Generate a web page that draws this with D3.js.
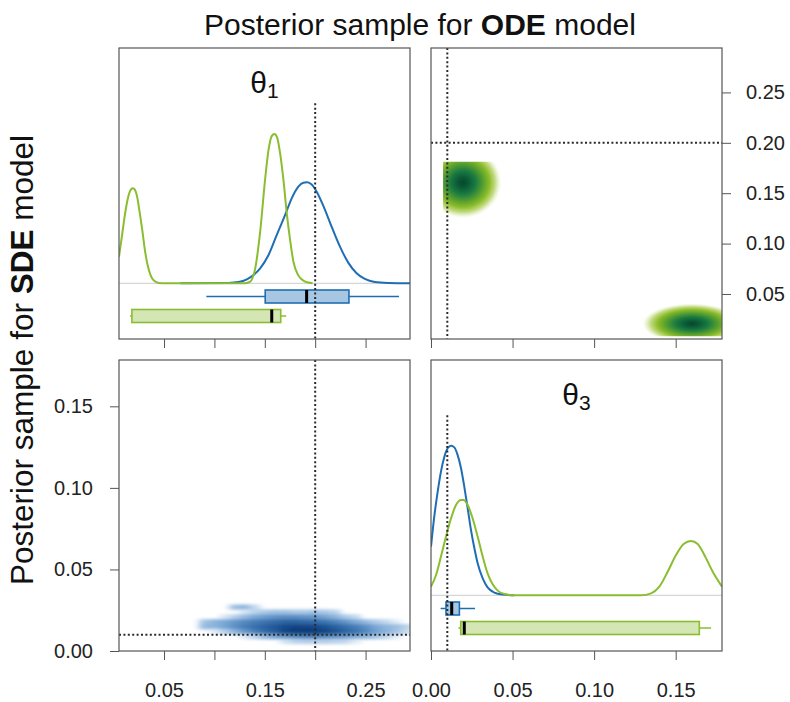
<!DOCTYPE html>
<html>
<head>
<meta charset="utf-8">
<script src="https://cdn.jsdelivr.net/npm/d3@7"></script>
<style>
  body { margin: 0; background: #fff; }
  svg { display: block; font-family: "Liberation Sans", Arial, Helvetica, sans-serif; }
</style>
</head>
<body>
<svg id="chart" width="790" height="702"></svg>
<script>
// ---------------------------------------------------------------
// Data
// ---------------------------------------------------------------
const trueTheta1 = 0.20;
const trueTheta3 = 0.01;

const theta1Ticks = [0.05, 0.10, 0.15, 0.20, 0.25];
const theta3Ticks = [0.00, 0.05, 0.10, 0.15];
const theta1Domain = [0.0053, 0.2941];
const theta3Domain = [0.0, 0.1784];

// marginal densities (relative scale): [theta, density]
const odeTheta1Density = [
  [0.0053, 0.148], [0.0086, 0.278], [0.0119, 0.407], [0.0152, 0.496], [0.0172, 0.522],
  [0.0191, 0.528], [0.0211, 0.519], [0.0234, 0.478], [0.0257, 0.398], [0.0284, 0.296],
  [0.0310, 0.185], [0.0333, 0.111], [0.0366, 0.046], [0.0399, 0.015], [0.0449, 0.002],
  [0.0515, 0.0], [0.1306, 0.0], [0.1355, 0.009], [0.1405, 0.083], [0.1454, 0.287],
  [0.1504, 0.583], [0.1537, 0.741], [0.1570, 0.819], [0.1596, 0.830], [0.1622, 0.811],
  [0.1652, 0.722], [0.1685, 0.574], [0.1718, 0.389], [0.1751, 0.241], [0.1784, 0.120],
  [0.1833, 0.044], [0.1883, 0.015], [0.1932, 0.004], [0.1975, 0.0]
];
const sdeTheta1Density = [
  [0.0663, 0.0], [0.1141, 0.002], [0.1240, 0.007], [0.1322, 0.022], [0.1388, 0.046],
  [0.1454, 0.083], [0.1537, 0.157], [0.1619, 0.269], [0.1702, 0.380], [0.1767, 0.472],
  [0.1833, 0.537], [0.1883, 0.559], [0.1916, 0.561], [0.1959, 0.552], [0.2015, 0.509],
  [0.2081, 0.430], [0.2163, 0.315], [0.2246, 0.204], [0.2328, 0.115], [0.2411, 0.056],
  [0.2493, 0.024], [0.2592, 0.007], [0.2724, 0.002], [0.2941, 0.0]
];
const sdeTheta3Density = [
  [0.0, 0.270], [0.0020, 0.437], [0.0041, 0.576], [0.0061, 0.687], [0.0082, 0.770],
  [0.0102, 0.817], [0.0123, 0.831], [0.0143, 0.822], [0.0163, 0.780], [0.0184, 0.706],
  [0.0204, 0.604], [0.0225, 0.483], [0.0245, 0.363], [0.0266, 0.261], [0.0286, 0.178],
  [0.0317, 0.094], [0.0347, 0.044], [0.0388, 0.015], [0.0439, 0.004], [0.0511, 0.0]
];
const odeTheta3Density = [
  [0.0, 0.048], [0.0031, 0.113], [0.0061, 0.215], [0.0092, 0.326], [0.0123, 0.428],
  [0.0153, 0.502], [0.0184, 0.530], [0.0200, 0.530], [0.0225, 0.502], [0.0255, 0.428],
  [0.0286, 0.326], [0.0317, 0.215], [0.0347, 0.122], [0.0378, 0.061], [0.0409, 0.026],
  [0.0450, 0.007], [0.0511, 0.0], [0.1288, 0.0], [0.1349, 0.011], [0.1400, 0.048],
  [0.1451, 0.131], [0.1502, 0.224], [0.1549, 0.285], [0.1594, 0.302], [0.1635, 0.285],
  [0.1676, 0.224], [0.1727, 0.131], [0.1784, 0.048]
];

// box summaries: [lower whisker, q1, median, q3, upper whisker]
const sdeTheta1Box = [0.0920, 0.1504, 0.1915, 0.2335, 0.2832];
const odeTheta1Box = [0.0162, 0.0181, 0.1569, 0.1658, 0.1712];
const sdeTheta3Box = [0.0059, 0.0092, 0.0127, 0.0174, 0.0270];
const odeTheta3Box = [0.0168, 0.0182, 0.0204, 0.1645, 0.1717];

// ODE joint posterior modes (theta3, theta1), spread and sample range
const odeModeTheta3   = [0.0196, 0.1600];
const odeModeTheta1   = [0.1606, 0.0205];
const odeSpreadTheta3 = [0.0240, 0.0310];
const odeSpreadTheta1 = [0.0360, 0.0205];
const odeRangeTheta3  = [[0.0074, 0.0440], [0.1270, 0.1784]];
const odeRangeTheta1  = [[0.1250, 0.1813], [0.0080, 0.0420]];

// SDE joint posterior density on a grid (rows: theta3, cols: theta1)
const sdeGridTheta1 = [0.09, 0.10, 0.11, 0.12, 0.13, 0.14, 0.15, 0.16, 0.17, 0.18, 0.19,
                       0.20, 0.21, 0.22, 0.23, 0.24, 0.25, 0.26, 0.27, 0.28, 0.29];
const sdeGridTheta3 = [0.027, 0.024, 0.021, 0.018, 0.015, 0.012, 0.009, 0.006];
const sdeGridDensity = [
  [0, 0, 0, 0.2, 0.25, 0.08, 0, 0, 0, 0, 0, 0, 0, 0, 0, 0, 0, 0, 0, 0, 0],
  [0, 0, 0, 0, 0.05, 0.1, 0.15, 0.18, 0.18, 0.15, 0.15, 0.18, 0.15, 0.1, 0, 0, 0, 0, 0, 0, 0],
  [0, 0, 0.05, 0.12, 0.22, 0.3, 0.35, 0.4, 0.42, 0.42, 0.4, 0.38, 0.32, 0.25, 0.15, 0.08, 0, 0, 0, 0, 0],
  [0.18, 0.25, 0.3, 0.38, 0.45, 0.5, 0.55, 0.6, 0.65, 0.65, 0.62, 0.6, 0.55, 0.48, 0.4, 0.3, 0.22, 0.14, 0.08, 0.04, 0],
  [0.22, 0.25, 0.32, 0.42, 0.5, 0.58, 0.65, 0.72, 0.8, 0.85, 0.85, 0.82, 0.75, 0.66, 0.58, 0.5, 0.42, 0.3, 0.24, 0.2, 0.12],
  [0, 0.04, 0.12, 0.25, 0.38, 0.5, 0.6, 0.7, 0.82, 0.92, 0.95, 0.92, 0.85, 0.75, 0.65, 0.55, 0.46, 0.34, 0.26, 0.18, 0.08],
  [0, 0, 0, 0, 0.05, 0.12, 0.24, 0.33, 0.42, 0.48, 0.52, 0.52, 0.48, 0.43, 0.38, 0.32, 0.25, 0.18, 0.1, 0.04, 0],
  [0, 0, 0, 0, 0, 0, 0, 0, 0.06, 0.1, 0.12, 0.12, 0.12, 0.1, 0.08, 0.04, 0, 0, 0, 0, 0]
];

// ---------------------------------------------------------------
// Layout and scales
// ---------------------------------------------------------------
const S = 291;
const P = {
  tl: { x: 119, y: 48 }, tr: { x: 431, y: 48 },
  bl: { x: 119, y: 360 }, br: { x: 431, y: 360 }
};
const BLUE = "#1f6db3", BLUE_FILL = "#a6c6e2";
const GREEN = "#8bbd30", GREEN_FILL = "#d4e6b4";
const fmt = d3.format(".2f");

const t1X = d3.scaleLinear().domain(theta1Domain).range([0, S]);
const t1Y = d3.scaleLinear().domain(theta1Domain).range([S, 0]);
const t3X = d3.scaleLinear().domain(theta3Domain).range([0, S]);
const t3Y = d3.scaleLinear().domain(theta3Domain).range([S, 0]);
const densY = d3.scaleLinear().domain([0, 1]).range([235.3, 55.3]);
const boxY = d3.scalePoint().domain(["SDE", "ODE"]).range([248.5, 268]);

const svg = d3.select("#chart");
const defs = svg.append("defs");

Object.keys(P).forEach(k => {
  defs.append("clipPath").attr("id", "clip-" + k)
    .append("rect").attr("width", S).attr("height", S);
});

function panel(k) {
  return svg.append("g").attr("transform", `translate(${P[k].x},${P[k].y})`);
}

function styleAxis(g) {
  g.select(".domain").remove();
  g.selectAll(".tick line").attr("stroke", "#555");
  g.selectAll(".tick text").attr("fill", "#222").attr("font-size", 20)
    .attr("font-family", '"Liberation Sans", Arial, Helvetica, sans-serif');
}

function dotted(g, x1, y1, x2, y2) {
  g.append("line").attr("x1", x1).attr("y1", y1).attr("x2", x2).attr("y2", y2)
    .attr("stroke", "#2a2a2a").attr("stroke-width", 2).attr("stroke-dasharray", "2,2.4");
}

function border(g) {
  g.append("rect").attr("width", S).attr("height", S)
    .attr("fill", "none").attr("stroke", "#555").attr("stroke-width", 1.2);
}

function paramLabel(g, sub) {
  const t = g.append("text").attr("x", S / 2).attr("y", 45)
    .attr("text-anchor", "middle").attr("font-size", 30).attr("fill", "#111");
  t.append("tspan").text("θ");
  t.append("tspan").attr("font-size", 21).attr("dy", 5).text(sub);
}

function box(g, x, stats, key, stroke, fill) {
  const yc = boxY(key), h = 13;
  const b = g.append("g");
  b.append("line").attr("x1", x(stats[0])).attr("x2", x(stats[4]))
    .attr("y1", yc).attr("y2", yc).attr("stroke", stroke).attr("stroke-width", 1.6);
  b.append("rect").attr("x", x(stats[1])).attr("width", x(stats[3]) - x(stats[1]))
    .attr("y", yc - h / 2).attr("height", h)
    .attr("fill", fill).attr("stroke", stroke).attr("stroke-width", 1.6);
  b.append("line").attr("x1", x(stats[2])).attr("x2", x(stats[2]))
    .attr("y1", yc - h / 2).attr("y2", yc + h / 2)
    .attr("stroke", "#000").attr("stroke-width", 3);
}

function densityPanel(k, x, odeDens, sdeDens, sdeBox, odeBox, truth, sub) {
  const g = panel(k);
  const inner = g.append("g").attr("clip-path", `url(#clip-${k})`);
  inner.append("line").attr("x1", 0).attr("x2", S)
    .attr("y1", densY(0)).attr("y2", densY(0))
    .attr("stroke", "#d6d6d6").attr("stroke-width", 1.2);
  const line = d3.line().x(d => x(d[0])).y(d => densY(d[1])).curve(d3.curveMonotoneX);
  inner.append("path").datum(sdeDens).attr("d", line)
    .attr("fill", "none").attr("stroke", BLUE).attr("stroke-width", 2);
  inner.append("path").datum(odeDens).attr("d", line)
    .attr("fill", "none").attr("stroke", GREEN).attr("stroke-width", 2);
  box(inner, x, sdeBox, "SDE", BLUE, BLUE_FILL);
  box(inner, x, odeBox, "ODE", GREEN, GREEN_FILL);
  dotted(inner, x(truth), densY(1), x(truth), S);
  paramLabel(g, sub);
  return g;
}

// ---------------------------------------------------------------
// Top-left: theta1 marginals
// ---------------------------------------------------------------
const gTL = densityPanel("tl", t1X, odeTheta1Density, sdeTheta1Density,
  sdeTheta1Box, odeTheta1Box, trueTheta1, "1");
gTL.append("g").attr("transform", `translate(0,${S})`)
  .call(d3.axisBottom(t1X).tickValues(theta1Ticks).tickSize(9).tickFormat(""))
  .call(styleAxis);
border(gTL);

// ---------------------------------------------------------------
// Bottom-right: theta3 marginals
// ---------------------------------------------------------------
const gBR = densityPanel("br", t3X, odeTheta3Density, sdeTheta3Density,
  sdeTheta3Box, odeTheta3Box, trueTheta3, "3");
gBR.append("g").attr("transform", `translate(0,${S})`)
  .call(d3.axisBottom(t3X).tickValues(theta3Ticks).tickSize(9).tickPadding(23).tickFormat(fmt))
  .call(styleAxis);
border(gBR);

// ---------------------------------------------------------------
// Top-right: ODE joint posterior (theta3 vs theta1)
// ---------------------------------------------------------------
const grad = defs.append("radialGradient").attr("id", "odeGrad");
[
  [0.00, "#07472b", 1], [0.14, "#0b5a36", 1], [0.32, "#1a7a41", 1], [0.52, "#579f30", 1],
  [0.68, "#8cbc2a", 1], [0.82, "#bcd773", 0.9], [0.92, "#e4efc6", 0.6], [1.00, "#ffffff", 0]
].forEach(s => grad.append("stop").attr("offset", s[0])
  .attr("stop-color", s[1]).attr("stop-opacity", s[2]));

const gTR = panel("tr");
const trInner = gTR.append("g").attr("clip-path", "url(#clip-tr)");
odeModeTheta3.forEach((m3, i) => {
  const cid = "odeRange" + i;
  const r3 = odeRangeTheta3[i], r1 = odeRangeTheta1[i];
  defs.append("clipPath").attr("id", cid).append("rect")
    .attr("x", t3X(r3[0])).attr("width", t3X(r3[1]) - t3X(r3[0]))
    .attr("y", t1Y(r1[1])).attr("height", t1Y(r1[0]) - t1Y(r1[1]));
  trInner.append("g").attr("clip-path", `url(#${cid})`)
    .append("ellipse")
    .attr("cx", t3X(m3)).attr("cy", t1Y(odeModeTheta1[i]))
    .attr("rx", t3X(m3 + odeSpreadTheta3[i]) - t3X(m3))
    .attr("ry", t1Y(odeModeTheta1[i]) - t1Y(odeModeTheta1[i] + odeSpreadTheta1[i]))
    .attr("fill", "url(#odeGrad)");
});
dotted(trInner, t3X(trueTheta3), 0, t3X(trueTheta3), S);
dotted(trInner, 0, t1Y(trueTheta1), S, t1Y(trueTheta1));
gTR.append("g").attr("transform", `translate(0,${S})`)
  .call(d3.axisBottom(t3X).tickValues(theta3Ticks).tickSize(9).tickFormat(""))
  .call(styleAxis);
gTR.append("g").attr("transform", `translate(${S},0)`)
  .call(d3.axisRight(t1Y).tickValues(theta1Ticks).tickSize(9).tickPadding(15).tickFormat(fmt))
  .call(styleAxis);
border(gTR);

// ---------------------------------------------------------------
// Bottom-left: SDE joint posterior (theta1 vs theta3)
// ---------------------------------------------------------------
defs.append("filter").attr("id", "soft")
  .attr("x", "-20%").attr("y", "-60%").attr("width", "140%").attr("height", "220%")
  .append("feGaussianBlur").attr("stdDeviation", "3.6 1.8");

const blueRamp = d3.scaleLinear()
  .domain([0, 0.08, 0.3, 0.55, 0.8, 1])
  .range(["#ffffff", "#c2d8ee", "#7aa8d6", "#3a74b1", "#14498a", "#0a3570"])
  .interpolate(d3.interpolateRgb);

const gBL = panel("bl");
const blInner = gBL.append("g").attr("clip-path", "url(#clip-bl)");
const cloud = blInner.append("g").attr("filter", "url(#soft)");
const cw = t1X(0.10) - t1X(0.09);
const ch = t3Y(0.006) - t3Y(0.009);
const cells = [];
sdeGridDensity.forEach((row, r) => row.forEach((v, c) => {
  if (v > 0) cells.push({ t1: sdeGridTheta1[c], t3: sdeGridTheta3[r], v });
}));
cloud.selectAll("rect").data(cells).join("rect")
  .attr("x", d => t1X(d.t1) - cw / 2).attr("y", d => t3Y(d.t3) - ch / 2)
  .attr("width", cw + 0.5).attr("height", ch + 0.5)
  .attr("fill", d => blueRamp(d.v));
dotted(blInner, t1X(trueTheta1), 0, t1X(trueTheta1), S);
dotted(blInner, 0, t3Y(trueTheta3), S, t3Y(trueTheta3));
gBL.append("g")
  .call(d3.axisLeft(t3Y).tickValues(theta3Ticks).tickSize(9).tickPadding(17).tickFormat(fmt))
  .call(styleAxis);
gBL.append("g").attr("transform", `translate(0,${S})`)
  .call(d3.axisBottom(t1X).tickValues(theta1Ticks).tickSize(9).tickPadding(23)
    .tickFormat((d, i) => i % 2 === 0 ? fmt(d) : ""))
  .call(styleAxis);
border(gBL);

// ---------------------------------------------------------------
// Titles
// ---------------------------------------------------------------
const mainTitle = svg.append("text").attr("x", 420).attr("y", 35)
  .attr("text-anchor", "middle").attr("font-size", 30).attr("fill", "#111");
mainTitle.append("tspan").text("Posterior sample for ");
mainTitle.append("tspan").attr("font-weight", "bold").text("ODE");
mainTitle.append("tspan").text(" model");

const sideTitle = svg.append("text").attr("transform", "translate(33,360) rotate(-90)")
  .attr("text-anchor", "middle").attr("font-size", 31.5).attr("fill", "#111");
sideTitle.append("tspan").text("Posterior sample for ");
sideTitle.append("tspan").attr("font-weight", "bold").text("SDE");
sideTitle.append("tspan").text(" model");
</script>
</body>
</html>
